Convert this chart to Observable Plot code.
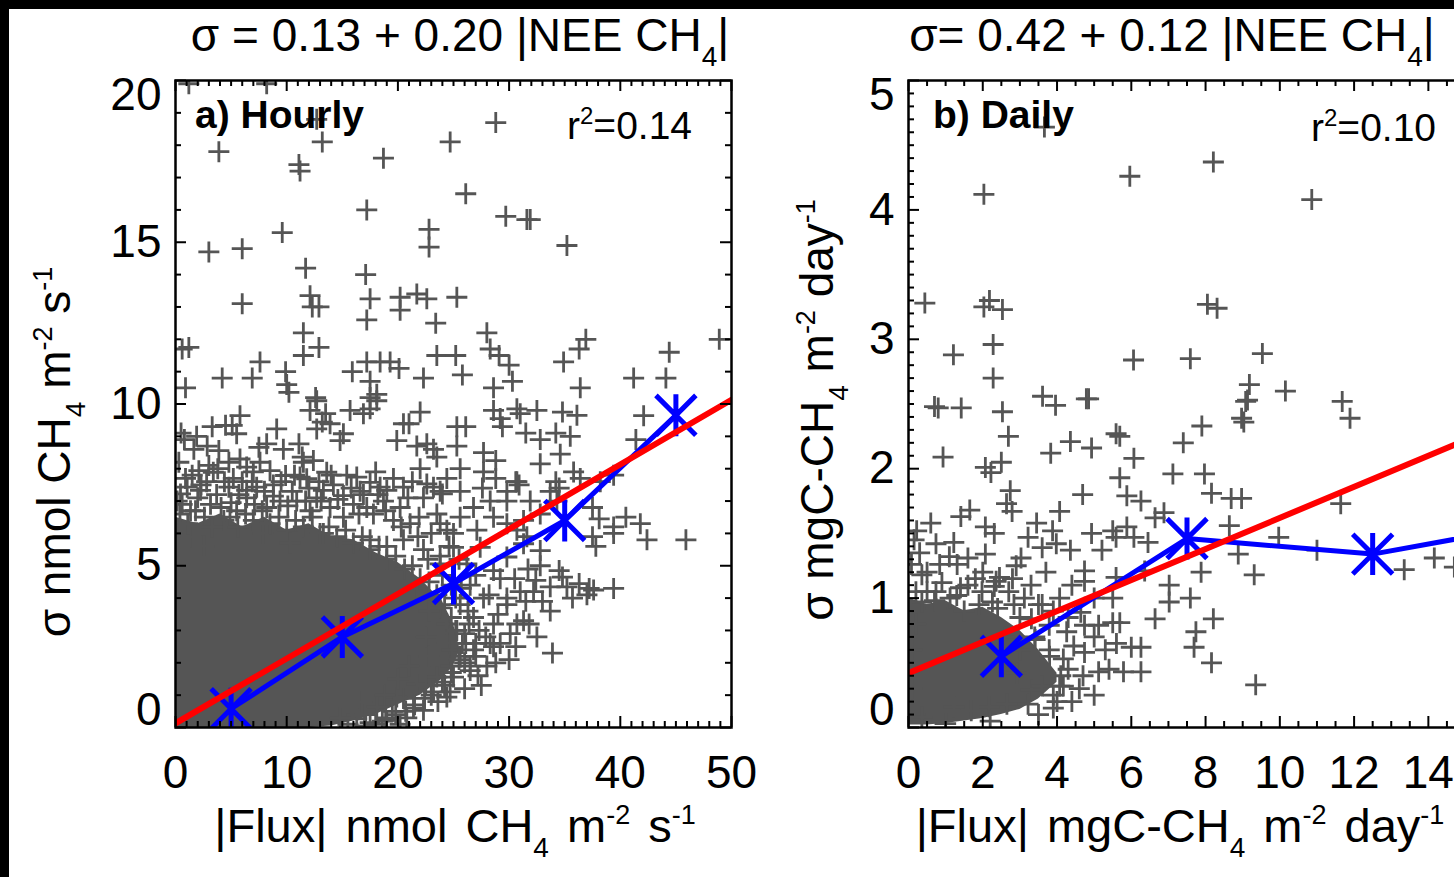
<!DOCTYPE html>
<html><head><meta charset="utf-8">
<script src="https://cdn.jsdelivr.net/npm/d3@7"></script>
<script src="https://cdn.jsdelivr.net/npm/@observablehq/plot@0.6"></script>
<style>
body{margin:0;background:#fff;}
#wrap{position:relative;width:1454px;height:877px;overflow:hidden;background:#fff;font-family:"Liberation Sans",Arial,Helvetica,sans-serif;color:#000;}
.plotbox{position:absolute;top:0;}
.t{position:absolute;white-space:nowrap;font-size:46px;line-height:46px;}
.xl{font-size:47px;word-spacing:5px;}
.sb{position:relative;font-size:28px;top:15px;}
.sp{position:relative;font-size:27px;top:-18px;}
.panel{position:absolute;white-space:nowrap;font-size:39px;line-height:39px;}
.panel .sp{font-size:24px;top:-15px;}
.bar{position:absolute;background:#000;z-index:10;}
</style></head>
<body><div id="wrap">
<div class="bar" style="left:0;top:0;width:1454px;height:9px"></div>
<div class="bar" style="left:0;top:0;width:9px;height:877px"></div>
<div id="pa" class="plotbox" style="left:0"></div>
<div id="pb" class="plotbox" style="left:733px"></div>
<div class="t" style="left:460px;top:12px;transform:translateX(-50%)">σ = 0.13 + 0.20 |NEE CH<span class="sb">4</span>|</div>
<div class="t" style="left:1172px;top:12px;transform:translateX(-50%)">σ= 0.42 + 0.12 |NEE CH<span class="sb">4</span>|</div>
<div class="t xl" style="left:455px;top:803px;transform:translateX(-50%)">|Flux| nmol CH<span class="sb">4</span> m<span class="sp">-2</span> s<span class="sp">-1</span></div>
<div class="t xl" style="left:1180px;top:803px;transform:translateX(-50%)">|Flux| mgC-CH<span class="sb">4</span> m<span class="sp">-2</span> day<span class="sp">-1</span></div>
<div class="t" style="left:57px;top:452px;transform:translate(-50%,-50%) rotate(-90deg)">σ nmol CH<span class="sb">4</span> m<span class="sp">-2</span> s<span class="sp">-1</span></div>
<div class="t" style="left:820px;top:410px;transform:translate(-50%,-50%) rotate(-90deg)">σ mgC-CH<span class="sb">4</span> m<span class="sp">-2</span> day<span class="sp">-1</span></div>
<div class="panel" style="left:195px;top:95px;font-weight:bold">a) Hourly</div>
<div class="panel" style="left:567px;top:106px">r<span class="sp">2</span>=0.14</div>
<div class="panel" style="left:933px;top:95px;font-weight:bold">b) Daily</div>
<div class="panel" style="left:1311px;top:108px">r<span class="sp">2</span>=0.10</div>
</div>
<script>
// ---------------- data ----------------
// Hourly: individual crosses [|Flux| nmol m-2 s-1, sigma]
const hourlyPts = [
[3.9,17.8],[13.2,18.1],[12.7,18.8],[11.1,17.4],[11.2,17.2],[18.7,17.6],[24.7,18.1],[17.2,16.0],[9.6,15.3],[3.0,14.7],[6.0,14.8],[22.8,15.4],[22.8,14.85],[11.7,14.2],[17.1,14.0],[6.0,13.1],[12.1,13.35],[12.9,13.0],[12.3,13.0],[17.5,13.25],[20.2,13.3],[20.2,12.9],[21.7,13.4],[22.6,13.25],[17.2,12.6],[23.4,12.5],[11.5,12.2],[12.9,11.75],[11.5,11.5],[0.6,11.7],[1.2,11.75],[7.6,11.3],[4.2,10.8],[6.9,10.8],[9.9,11.0],[10.0,10.6],[15.9,11.0],[17.2,11.3],[18.4,11.3],[19.3,11.3],[20.1,11.1],[17.5,10.7],[18.1,10.3],[22.3,10.8],[23.5,11.5],[0.9,10.5],[12.6,10.2],[1.2,19.9],[8.2,19.9],
[28.8,18.7],[26.1,16.5],[29.7,15.8],[31.6,15.7],[31.9,15.7],[35.2,14.9],[25.3,13.3],[28.0,12.2],[28.3,11.7],[29.1,11.5],[30.0,11.2],[25.2,11.5],[25.8,10.9],[28.6,10.5],[30.3,10.7],[34.9,11.3],[36.3,11.7],[36.9,12.0],[36.4,10.5],[41.2,10.8],[44.1,10.8],[44.4,11.6],[48.9,12.0],
[42.1,9.64],[41.4,8.9],[28.6,9.8],[30.7,9.85],[31.0,9.7],[32.5,9.8],[34.8,9.75],[36.1,9.65],[25.3,9.3],[26.1,9.3],[29.2,9.55],[29.4,9.3],[31.5,9.1],[32.8,8.9],[34.2,9.1],[34.6,8.45],[35.5,9.0],[25.3,8.7],[27.7,8.5],[28.8,8.25],[28.8,7.7],[30.6,7.6],[30.9,7.5],[25.6,7.3],[23.8,7.3],[27.6,7.4],[29.8,7.0],[34.2,7.6],[34.5,7.4],[37.5,6.8],[38.1,6.45],[39.4,6.2],[40.5,6.5],[41.8,6.3],[42.4,5.8],[45.9,5.8],[37.5,5.9],[37.8,5.6],[39.4,6.0],[34.5,4.85],[34.8,4.65],[32.4,4.55],[33.7,4.35],[35.2,4.35],[36.3,4.45],[37.2,4.3],[37.6,4.25],[39.4,4.3],[35.7,4.0],[37.0,4.1],[33.7,3.6],[31.8,3.2],[32.5,2.8],[33.9,2.3],[29.8,3.8],[31.3,3.3],[28.6,2.5],[29.2,2.6],[26.5,1.9],[24.7,1.1],
[10.2,10.36],[12.7,10.1],[12.1,9.8],[13.5,9.7],[17.5,10.2],[18.1,10.1],[15.7,9.8],[16.9,9.7],[17.5,9.85],[5.8,9.64],[5.1,9.34],[4.5,9.34],[5.5,9.08],[9.1,9.23],[13.2,9.44],[12.7,9.23],[13.9,9.39],[15.1,9.08],[14.8,8.87],[20.5,9.39],[21.0,9.39],[22.0,9.75],[19.9,8.87],[21.7,8.7],[22.6,8.77],[23.2,8.6],[23.5,8.36],[1.65,8.6],[2.85,8.7],[3.9,8.56],[7.5,8.66],[8.2,8.77],[9.7,8.6],[11.1,8.77],[11.4,8.36],[5.8,8.3],[4.8,8.2],[6.4,8.05],[7.6,8.2],[2.1,7.94],[3.4,7.89],[12.4,8.25],[13.6,7.89],[8.5,7.94],[9.9,7.79],[11.2,7.74],[11.8,7.69],[16.3,7.74],[17.5,7.58],[18.4,7.43],[19.0,7.33],[20.5,7.43],[22.6,7.53],[23.2,7.43],[24.0,7.22],[1.05,7.43],[0.45,7.22],[2.25,7.33],[4.8,7.43],[6.4,7.33],[7.3,7.43],[13.3,7.33],[15.1,7.17],
[0.15,7.0],[1.35,6.7],[3.15,6.9],[4.35,6.4],[5.5,6.7],[6.4,7.1],[8.2,6.8],[9.4,7.0],[10.9,7.0],[12.1,6.7],[12.7,7.1],[13.9,6.8],[15.1,6.5],[16.0,6.9],[16.9,7.2],[17.8,6.6],[18.7,7.0],[20.2,6.8],[21.1,6.3],[22.3,7.1],[23.5,6.6],[24.4,6.1],[1.35,5.9],[2.55,5.6],[7.9,6.0],[10.3,5.7],[13.3,6.0],[17.5,5.8],[19.0,5.6],[20.5,5.8],[22.3,5.5],[23.8,5.3],
[23.8,3.7],[24.4,3.2],[25.6,3.8],[26.8,3.4],[27.7,4.0],[28.6,3.2],[29.8,4.0],[30.7,3.2],[31.0,4.2],[24.4,2.6],[25.6,2.2],[26.8,2.4],[28.3,2.6],[25.0,1.56],[26.5,1.76],[24.4,0.94],[26.2,5.06],[27.4,5.57],[28.6,4.85],[29.8,5.27],[25.0,5.57],[23.8,5.06],[31.3,5.68],[32.8,5.47],[27.1,6.1],[28.6,6.5],[29.8,6.3],[30.7,6.1],[31.6,5.9],[25.0,6.0],[25.6,6.5],[23.8,6.3],[26.8,6.8],[28.3,7.0],[29.8,7.3],[30.7,7.6],[27.7,7.9],[25.6,8.0],[24.4,7.7],[31.9,7.0],[32.8,6.6],[31.3,6.4],[33.7,7.3],[34.3,7.0],[35.8,7.9],[36.4,7.7],[38.2,7.6],[39.4,7.8],[32.8,8.15],
[16.3,0.27],[18.1,0.63],[19.9,0.94],[21.7,1.35],[23.5,1.56],[19.0,0.22],[22.3,0.53],[20.8,0.3],[17.5,0.15],[21.0,1.9],[22.8,2.2],[20.0,1.5],[23.0,1.0],[27.5,1.3],[28.0,1.9],[30.0,2.1],[26.0,2.9],[27.3,3.0],[22.5,2.8],[22.8,3.6],[21.5,4.3],[24.8,4.4],[26.5,4.4],[30.5,4.6],[31.7,4.9],[32.8,5.0],
[0.3,8.2],[0.8,8.9],[1.5,7.8],[2.8,7.6],[3.8,8.0],[5.2,7.7],[6.0,7.6],[7.0,7.9],[8.8,7.5],[10.5,7.3],[11.5,8.2],[12.9,7.6],[14.2,7.5],[15.4,7.8],[16.6,7.3],[18.0,7.9],[19.6,7.7],[21.3,7.6],[22.0,8.0],[0.5,9.1],[1.9,9.0],[3.3,9.3],[0.6,6.9],[2.0,7.1],[3.7,7.2],[5.0,6.95],[7.1,6.9],[8.8,7.15],[10.1,6.85],[11.7,7.0],[14.6,7.05],[16.5,6.6],[18.9,6.7],[20.9,7.1],[21.9,6.5],[23.0,6.0],[24.6,5.6],[25.5,5.2],
[25.2,3.0],[26.1,2.6],[27.0,2.2],[27.9,2.8],[29.0,3.5],[30.1,2.9],[25.7,4.3],[27.0,4.7],[28.2,4.1],[29.2,4.6],[24.8,1.9],[26.0,1.2],[27.2,1.6],[28.8,2.0],[30.6,2.5],[31.5,3.9],[32.2,4.2],[33.0,3.9],[26.3,3.6],[24.9,2.4],
[15.5,0.1],[17.0,0.4],[18.6,0.2],[19.5,0.5],[20.5,0.9],[21.4,0.6],[22.5,1.3],[23.6,0.8],[24.2,1.3],[20.2,0.1],[18.8,1.0],[16.8,0.8],[14.8,0.3],
[0.4,6.6],[1.1,6.3],[1.8,6.7],[2.6,6.5],[3.3,6.2],[4.1,6.8],[4.9,6.5],[5.6,6.2],[6.3,6.6],[7.0,6.4],[7.8,6.7],[8.5,6.3],[9.3,6.5],[10.0,6.1],[10.8,6.4],[11.5,6.2],[12.3,6.5],[13.0,6.0],[13.8,6.2],[14.5,5.9],[15.3,6.1],[16.0,5.7],[16.8,5.9],[17.5,5.5],[18.3,5.6],[19.0,5.2],[19.8,5.3],[20.6,4.9],[21.3,5.0],[22.0,4.6],[22.8,4.5],[23.5,4.1],[24.2,3.8],[24.8,3.4],[25.3,3.0],[25.8,2.6],[25.5,2.1],[24.8,1.7],[24.0,1.4],[23.2,1.1],[22.4,0.9],[21.5,0.7],[20.7,0.5],[19.8,0.4],[18.9,0.3],[18.0,0.1],[17.1,0.05],
[0.9,7.7],[2.3,7.5],[3.0,8.1],[4.4,7.6],[5.7,7.2],[6.9,7.6],[8.0,7.3],[9.5,7.6],[10.7,7.8],[12.0,7.4],[13.1,7.0],[14.0,7.8],[15.8,7.4],[17.2,6.8],[18.2,7.2],[19.6,6.4],[20.3,6.2],[21.8,5.9],[22.7,5.2],[24.0,4.7],[25.2,4.0],[26.4,3.2],[27.0,2.6],[26.0,2.0]
];
// Hourly: saturated cloud of overlapping crosses (lower / upper edge)
const hourlyCoreX  = [0,2,4,6,8,10,12,14,16,18,20,22,24,25,25.6];
const hourlyCoreLo = [0,0,0,0,0,0,0,0.05,0.2,0.4,0.7,1.0,1.5,1.9,2.4];
const hourlyCoreHi = [6.5,6.3,6.6,6.2,6.5,6.1,6.3,5.9,5.8,5.4,5.1,4.6,3.9,3.2,2.4];
// Hourly bin means
const hourlyBinX = [5,15,25,35,45];
const hourlyBinY = [0.58,2.8,4.45,6.4,9.65];
// Hourly fit: sigma = 0.13 + 0.20 |NEE|
const hourlyFit = [0.13, 0.20];

// Daily crosses [|Flux| mgC m-2 day-1, sigma]
const dailyPts = [
[3.66,4.64],[2.03,4.12],[5.96,4.26],[8.21,4.37],[10.86,4.08],[0.44,3.28],[2.03,3.25],[2.18,3.30],[2.53,3.23],[8.05,3.27],[8.31,3.24],[1.21,2.88],[2.28,2.96],[2.28,2.70],[6.06,2.84],[7.59,2.85],[9.53,2.89],[0.70,2.48],[0.80,2.47],[1.42,2.47],[2.53,2.44],[3.61,2.56],[3.96,2.49],[4.79,2.54],[4.85,2.54],[9.18,2.65],[9.13,2.53],[9.08,2.52],[8.97,2.39],[9.03,2.36],[10.15,2.60],[11.68,2.52],[11.89,2.39],[7.9,2.33],
[2.69,2.25],[0.93,2.09],[2.07,2.01],[2.22,1.97],[2.5,2.05],[3.83,2.12],[4.36,2.21],[4.93,2.16],[5.59,2.27],[5.69,2.25],[6.07,2.08],[5.69,1.93],[7.4,2.20],[7.12,1.96],[7.97,1.96],[4.69,1.80],[5.88,1.79],[6.26,1.75],[8.16,1.81],[8.69,1.77],[8.97,1.77],[11.64,1.73],[2.74,1.83],[2.64,1.73],[2.79,1.67],[1.65,1.68],[1.41,1.63],[4.07,1.67],[6.88,1.66],[6.64,1.62],[3.45,1.58],[3.88,1.52],[4.93,1.50],[5.5,1.52],[5.88,1.55],[6.07,1.47],[8.64,1.56],[9.97,1.47],[0.6,1.58],[0.22,1.52],[2.07,1.55],[2.31,1.50],[1.22,1.43],[0.74,1.42],[3.22,1.47],[3.6,1.39],[3.98,1.42],[4.36,1.37],[5.21,1.37],[5.59,1.47],[6.45,1.43],[8.88,1.34],[11.0,1.37],[13.35,1.22],[14.16,1.31],[9.31,1.18],[2.07,1.34],[3.03,1.31],[4.74,1.21],[4.74,1.13],[5.59,1.16],[6.36,1.21],[7.02,1.10],[7.88,1.20],[7.59,1.00],[7.02,0.97],[6.64,0.84],[8.21,0.84],[5.5,0.81],[5.69,0.81],[7.74,0.74],[6.0,0.62],[6.26,0.62],[7.69,0.62],[8.16,0.50],[9.35,0.33],[5.12,0.43],[5.4,0.45],[5.79,0.43],[6.26,0.43],[4.17,0.32],[2.36,1.13],[2.45,1.16],[2.31,1.09],
[0.36,0.97],[0.74,1.05],[1.12,1.0],[0.74,0.92],[0.08,1.26],[0.36,1.18],[0.84,1.26],[1.31,1.26],[1.6,1.31],[1.98,1.05],[2.26,0.97],[2.84,0.95],[3.12,1.0],[3.31,0.84],[3.6,0.95],[3.79,0.79],[4.07,1.0],[4.26,0.74],[3.41,0.68],[3.79,0.6],[4.17,0.53],[4.45,0.63],[2.93,0.42],[3.31,0.29],[3.6,0.32],[3.22,0.18],[4.74,0.58],[4.74,0.79],[4.64,0.89],[5.12,0.79],[4.07,0.32],[0.36,0.08],[0.74,0.1],[1.22,0.16],[1.69,0.13],[2.17,0.16],[2.65,0.18],[0.1,0.3],[0.1,0.6],[0.2,0.8],[1.5,0.9],[2.6,0.7],[3.0,0.6],[1.0,0.03],[2.2,0.05],[3.9,0.15],[4.4,0.2],[5.3,0.6],[5.0,1.0],[1.8,1.15],[0.5,1.05],[14.7,1.24],
[0.3,1.35],[0.9,1.12],[1.4,1.08],[2.0,1.2],[2.7,1.05],[3.3,1.1],[3.9,0.9],[4.3,0.45],[4.6,0.3],[4.0,0.2],[3.5,0.1],[0.15,1.45],[1.1,1.32],[2.9,1.25],[3.7,1.2],[4.4,1.1],[5.5,1.0],[5.0,0.7],[5.6,0.65],
[0.2,1.05],[0.7,0.98],[1.3,1.02],[1.9,0.95],[2.4,0.92],[3.0,0.85],[3.4,0.7],[3.8,0.55],[4.1,0.4],[3.9,0.25],[0.5,1.2],[1.6,1.1],[2.8,1.15],[3.5,0.95],[4.3,0.85],[4.7,0.4],[5.0,0.25]
];
const dailyCoreX  = [0,0.5,1,1.5,2,2.5,3,3.5,4];
const dailyCoreLo = [0.02,0.02,0.03,0.05,0.07,0.1,0.14,0.22,0.35];
const dailyCoreHi = [1.0,0.95,0.98,0.9,0.93,0.85,0.75,0.6,0.42];
const dailyBinX = [2.5,7.5,12.5,17.5];
const dailyBinY = [0.55,1.46,1.34,1.6];
const dailyFit = [0.42, 0.12];

// tick values
const hourlyXMajor = [0,10,20,30,40,50];
const hourlyYMajor = [0,5,10,15,20];
const dailyXMajor = [0,2,4,6,8,10,12,14];
const dailyYMajor = [0,1,2,3,4,5];

// ---------------- drawing ----------------
const plusSym = {draw(ctx, size){const h=Math.sqrt(size/Math.PI); ctx.moveTo(-h,0);ctx.lineTo(h,0);ctx.moveTo(0,-h);ctx.lineTo(0,h);}};
const starSym = {draw(ctx, size){const h=Math.sqrt(size/Math.PI); const d=h*0.95; ctx.moveTo(0,-h);ctx.lineTo(0,h);ctx.moveTo(-d,-d);ctx.lineTo(d,d);ctx.moveTo(-d,d);ctx.lineTo(d,-d);}};

function range(a, b, s){ const out=[]; for(let i=0;;i++){const v=+(a+i*s).toFixed(6); if(v>b+1e-9)break; out.push(v);} return out; }

function panel({xDomain, yDomain, W, H, xMajor, xMinorStep, yMajor, yMinorStep, pts, coreX, coreLo, coreHi, binX, binY, fit}) {
  const ML=175, MT=80, MR=770-ML-W, MB=800-MT-H;
  const xMinor = range(xDomain[0], xDomain[1], xMinorStep).filter(v=>!xMajor.some(m=>Math.abs(m-v)<1e-9));
  const yMinor = range(yDomain[0], yDomain[1], yMinorStep).filter(v=>!yMajor.some(m=>Math.abs(m-v)<1e-9));
  const core = coreX.map((x,i)=>({x, lo: coreLo[i], hi: coreHi[i]}));
  const bins = binX.map((x,i)=>({x, y: binY[i]}));
  const fitLine = [xDomain[0], xDomain[1]].map(x=>({x, y: fit[0]+fit[1]*x}));
  const ptsObj = pts.map(([x,y])=>({x,y}));
  const yMid = yMajor.slice(1,-1);
  const majL = 11, minL = 6;
  const fmt = d => String(d);
  return Plot.plot({
    width: 770, height: 800,
    marginLeft: ML, marginTop: MT, marginRight: MR, marginBottom: MB,
    x: {domain: xDomain, nice:false},
    y: {domain: yDomain, nice:false},
    style: {background:"transparent", fontFamily:'"Liberation Sans", Arial, Helvetica, sans-serif', fontSize:"46px", color:"black", overflow:"visible", maxWidth:"none"},
    marks: [
      Plot.areaY(core, {x:"x", y1:"lo", y2:"hi", fill:"#555", clip:true}),
      Plot.dot(ptsObj, {x:"x", y:"y", symbol: plusSym, r: 10.5, fill:"none", stroke:"#555", strokeWidth: 2.8, clip:true}),
      Plot.line(bins, {x:"x", y:"y", stroke:"#0000ff", strokeWidth:5, strokeLinejoin:"round", clip:true}),
      Plot.dot(bins, {x:"x", y:"y", symbol: starSym, r: 21, fill:"none", stroke:"#0000ff", strokeWidth:5, clip:true}),
      Plot.line(fitLine, {x:"x", y:"y", stroke:"#ff0000", strokeWidth:6, clip:true}),
      Plot.tickX(xMajor, {x:d=>d, insetTop: H-majL, stroke:"black", strokeWidth:2}),
      Plot.tickX(xMajor, {x:d=>d, insetBottom: H-majL, stroke:"black", strokeWidth:2}),
      Plot.tickX(xMinor, {x:d=>d, insetTop: H-minL, stroke:"black", strokeWidth:2}),
      Plot.tickX(xMinor, {x:d=>d, insetBottom: H-minL, stroke:"black", strokeWidth:2}),
      Plot.tickY(yMajor, {y:d=>d, insetRight: W-majL, stroke:"black", strokeWidth:2}),
      Plot.tickY(yMajor, {y:d=>d, insetLeft: W-majL, stroke:"black", strokeWidth:2}),
      Plot.tickY(yMinor, {y:d=>d, insetRight: W-minL, stroke:"black", strokeWidth:2}),
      Plot.tickY(yMinor, {y:d=>d, insetLeft: W-minL, stroke:"black", strokeWidth:2}),
      Plot.frame({stroke:"black", strokeWidth:2.5}),
      Plot.axisX(xMajor, {anchor:"bottom", tickSize:0, tickPadding:28, label:null, tickFormat: fmt}),
      Plot.axisY(yMid, {anchor:"left", tickSize:0, tickPadding:14, label:null, tickFormat: fmt}),
      Plot.axisY([yMajor[yMajor.length-1]], {anchor:"left", tickSize:0, tickPadding:14, label:null, dy:15, tickFormat: fmt}),
      Plot.axisY([yMajor[0]], {anchor:"left", tickSize:0, tickPadding:14, label:null, dy:-17, tickFormat: fmt})
    ]
  });
}

document.getElementById("pa").append(panel({
  xDomain:[0,50], yDomain:[0,20], W:556, H:647,
  xMajor: hourlyXMajor, xMinorStep:1, yMajor: hourlyYMajor, yMinorStep:1,
  pts: hourlyPts, coreX: hourlyCoreX, coreLo: hourlyCoreLo, coreHi: hourlyCoreHi,
  binX: hourlyBinX, binY: hourlyBinY, fit: hourlyFit
}));
document.getElementById("pb").append(panel({
  xDomain:[0,15], yDomain:[0,5], W:557, H:647,
  xMajor: dailyXMajor, xMinorStep:0.5, yMajor: dailyYMajor, yMinorStep:0.1,
  pts: dailyPts, coreX: dailyCoreX, coreLo: dailyCoreLo, coreHi: dailyCoreHi,
  binX: dailyBinX, binY: dailyBinY, fit: dailyFit
}));
</script>
</body></html>
